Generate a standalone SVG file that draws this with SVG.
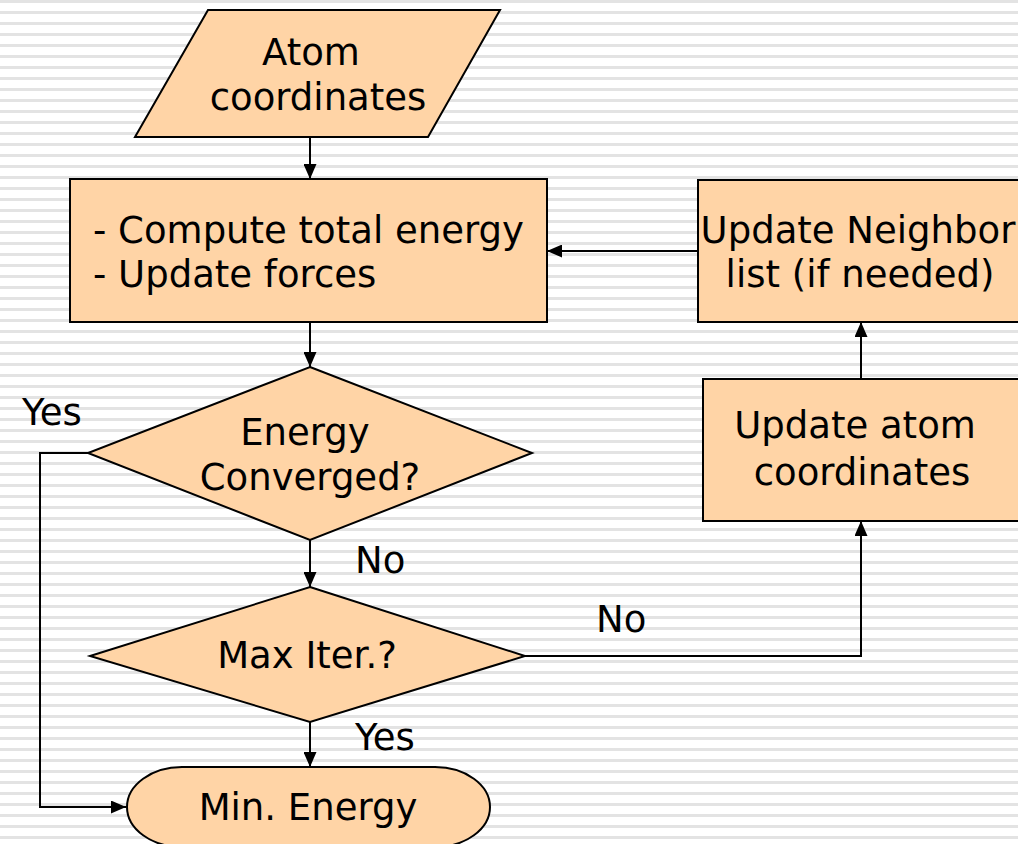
<svg xmlns="http://www.w3.org/2000/svg" width="1018" height="844" viewBox="0 0 1018 844">
<defs>
<pattern id="stripes" x="0" y="0" width="1018" height="11" patternUnits="userSpaceOnUse">
<rect x="0" y="0" width="1018" height="11" fill="#ffffff"/>
<rect x="0" y="0" width="1018" height="3" fill="#e3e3e3"/>
</pattern>
<marker id="arr" viewBox="0 0 15 13" refX="15" refY="6.5" markerWidth="15" markerHeight="13" markerUnits="userSpaceOnUse" orient="auto">
<path d="M0,0 L15,6.5 L0,13 Z" fill="#000"/>
</marker>
<style>
.shape{fill:#FFD4A6;stroke:#000;stroke-width:2}
.t{font-family:"DejaVu Sans","Verdana",sans-serif;font-size:37px;fill:#000}
.c{text-anchor:middle}
.conn{fill:none;stroke:#000;stroke-width:2;marker-end:url(#arr)}
</style>
</defs>
<rect width="1018" height="844" fill="url(#stripes)"/>
<g id="connectors">
<line class="conn" x1="310" y1="137" x2="310" y2="179"/>
<line class="conn" x1="310" y1="322" x2="310" y2="367"/>
<line class="conn" x1="310" y1="540" x2="310" y2="587"/>
<line class="conn" x1="310" y1="722" x2="310" y2="767"/>
<polyline class="conn" points="88,453 40,453 40,807 126,807"/>
<polyline class="conn" points="525,656 861,656 861,521"/>
<line class="conn" x1="861" y1="379" x2="861" y2="322"/>
<line class="conn" x1="698" y1="251" x2="547" y2="251"/>
<text class="t" x="22" y="425">Yes</text>
<text class="t" x="355" y="573">No</text>
<text class="t" x="355" y="750">Yes</text>
<text class="t" x="596" y="632">No</text>
</g>
<g id="atom-coordinates">
<polygon class="shape" points="208,10 500,10 428,137 135,137"/>
<text class="t c" x="311" y="65">Atom</text>
<text class="t c" x="318" y="110">coordinates</text>
</g>
<g id="compute-energy">
<rect class="shape" x="70" y="179" width="477" height="143"/>
<text class="t" x="93" y="243">- Compute total energy</text>
<text class="t" x="93" y="287">- Update forces</text>
</g>
<g id="energy-converged">
<polygon class="shape" points="310,367 532,453 310,540 88,453"/>
<text class="t c" x="305" y="445">Energy</text>
<text class="t c" x="310" y="490">Converged?</text>
</g>
<g id="max-iter">
<polygon class="shape" points="310,587 525,656 310,722 90,656"/>
<text class="t c" x="307" y="668">Max Iter.?</text>
</g>
<g id="min-energy">
<rect class="shape" x="127" y="767" width="363" height="80" rx="55" ry="40"/>
<text class="t c" x="308" y="820">Min. Energy</text>
</g>
<g id="update-neighbor">
<rect class="shape" x="698" y="180" width="324" height="142"/>
<text class="t c" x="858" y="243">Update Neighbor</text>
<text class="t c" x="860" y="287">list (if needed)</text>
</g>
<g id="update-atom">
<rect class="shape" x="703" y="379" width="319" height="142"/>
<text class="t c" x="855" y="438">Update atom</text>
<text class="t c" x="862" y="485">coordinates</text>
</g>
</svg>
